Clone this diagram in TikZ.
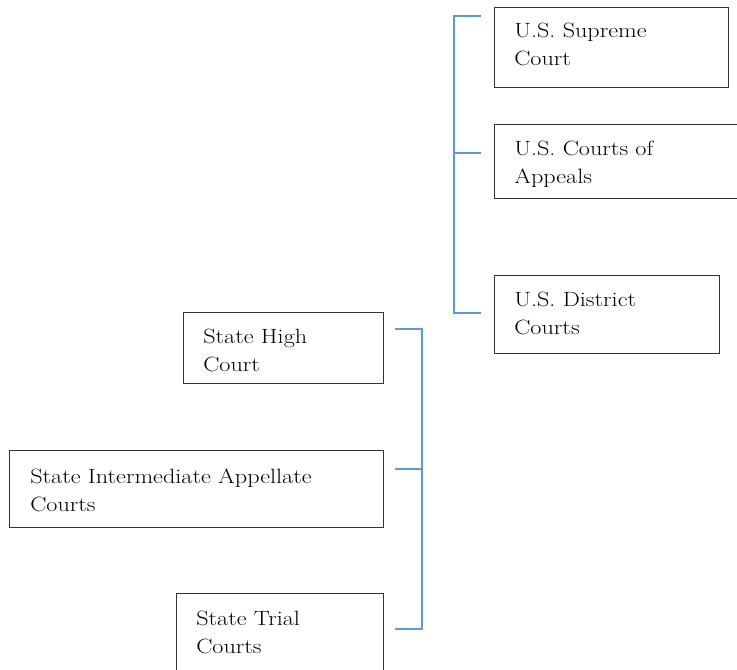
\documentclass[tikz,border=0pt]{standalone}
\usepackage{fontspec}
\setmainfont{Latin Modern Roman}[FakeStretch=1.17]
\definecolor{brkblue}{RGB}{91,155,213}
\begin{document}
\begin{tikzpicture}[x=0.75pt,y=-0.75pt,
  box/.style={draw=black!80, line width=1.1pt, inner sep=0pt, anchor=north west},
  lbl/.style={anchor=base west, align=left, font=\fontsize{15.5}{21}\selectfont, inner sep=0pt},
  brk/.style={draw=brkblue, line width=0.9pt}]
\useasboundingbox (0,0) rectangle (737,669);
\clip (0,0) rectangle (737,669);
% federal boxes
\node[box, minimum width=175.5pt, minimum height=60pt] (sc) at (494,7) {};
\node[box, minimum width=184.5pt, minimum height=55.5pt] (ca) at (494,124) {};
\node[box, minimum width=168.75pt, minimum height=58.5pt] (dc) at (494,275) {};
\node[lbl] (scl) at (514,65) {U.S. Supreme\\Court};
\node[lbl] (cal) at (514,183) {U.S. Courts of\\Appeals};
\node[lbl] (dcl) at (514,334) {U.S. District\\Courts};
% state boxes
\node[box, minimum width=150pt, minimum height=53.25pt] (hc) at (183,312) {};
\node[box, minimum width=280.5pt, minimum height=57.75pt] (ia) at (9,450) {};
\node[box, minimum width=155.25pt, minimum height=72.75pt] (tc) at (176,593) {};
\node[lbl] (hcl) at (203,371) {State High\\Court};
\node[lbl] (ial) at (30,511) {State Intermediate Appellate\\Courts};
\node[lbl] (tcl) at (196,653) {State Trial\\Courts};
% federal bracket
\coordinate (f1) at (481,16);
\coordinate (f1v) at (454,16);
\coordinate (f2) at (481,153);
\coordinate (f2v) at (454,153);
\coordinate (f3) at (481,313);
\coordinate (f3v) at (454,313);
\draw[brk] (f1) -- (f1v) -- (f3v) -- (f3);
\draw[brk] (f2v) -- (f2);
% state bracket
\coordinate (s1) at (395,329);
\coordinate (s1v) at (422,329);
\coordinate (s2) at (395,469);
\coordinate (s2v) at (422,469);
\coordinate (s3) at (395,629);
\coordinate (s3v) at (422,629);
\draw[brk] (s1) -- (s1v) -- (s3v) -- (s3);
\draw[brk] (s2v) -- (s2);
\end{tikzpicture}
\end{document}
